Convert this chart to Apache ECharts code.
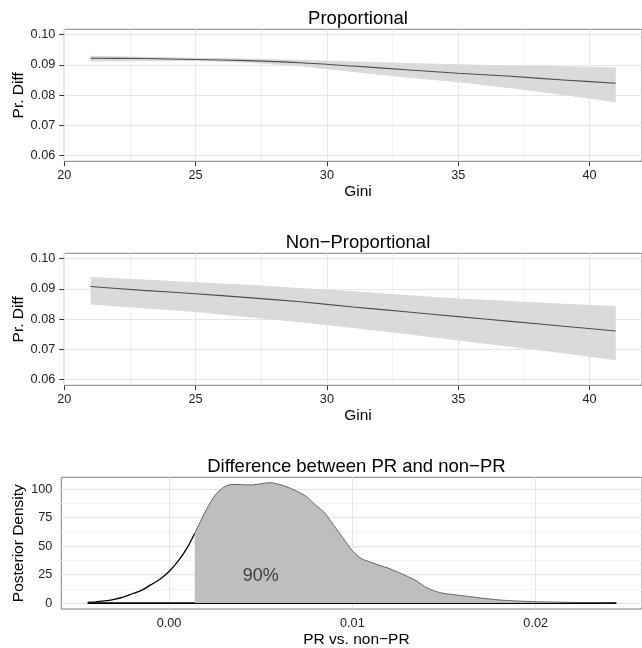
<!DOCTYPE html>
<html>
<head>
<meta charset="utf-8">
<script src="https://cdn.jsdelivr.net/npm/echarts@6/dist/echarts.min.js"></script>
<style>html,body{margin:0;padding:0;background:#fff;}#c{width:642px;height:648px;}</style>
</head>
<body>
<div id="c"></div>
<script>
// ---------- data ----------
const gini = [21, 23, 25, 27, 29, 31, 33, 35, 37, 39, 41];
const propMean  = [0.0922, 0.0921, 0.0918, 0.0914, 0.0907, 0.0896, 0.0884, 0.0872, 0.0862, 0.0850, 0.0839];
const propUpper = [0.0930, 0.0927, 0.0924, 0.0921, 0.0916, 0.0911, 0.0906, 0.0902, 0.0898, 0.0895, 0.0892];
const propLower = [0.0911, 0.0912, 0.0913, 0.0907, 0.0895, 0.0876, 0.0858, 0.0842, 0.0822, 0.0800, 0.0776];
const nonMean  = [0.0908, 0.0895, 0.0884, 0.0871, 0.0857, 0.0840, 0.0824, 0.0808, 0.0792, 0.0776, 0.0760];
const nonUpper = [0.0939, 0.0931, 0.0922, 0.0914, 0.0903, 0.0892, 0.0880, 0.0868, 0.0860, 0.0851, 0.0843];
const nonLower = [0.0848, 0.0836, 0.0823, 0.0806, 0.0789, 0.0770, 0.0750, 0.0729, 0.0708, 0.0686, 0.0663];

const densityX = [-0.00444, -0.0040, -0.0035, -0.0030, -0.0025, -0.0020, -0.0015, -0.0010, -0.0005, 0.0000,
  0.0005, 0.0010, 0.0014, 0.0020, 0.0025, 0.0030, 0.0035, 0.0040, 0.0045, 0.0050, 0.0055, 0.0060, 0.0065,
  0.0070, 0.0075, 0.0080, 0.0085, 0.0090, 0.0095, 0.0100, 0.0105, 0.0110, 0.0115, 0.0120, 0.0125, 0.0130,
  0.0135, 0.0140, 0.0145, 0.0150, 0.0160, 0.0170, 0.0180, 0.0190, 0.0200, 0.0210, 0.0220, 0.0230, 0.0244];
const densityY = [0.5, 1.1, 1.9, 3.3, 5.3, 8.2, 11.2, 16, 21, 27.7,
  37, 49, 61.4, 81, 94.5, 102, 104.3, 104, 103.8, 104.8, 105.8, 104.3, 101.7,
  98, 93.5, 86, 79, 68, 57, 46, 39, 36, 33, 30.5, 27, 23.5,
  19.5, 14, 10.5, 8.5, 6.5, 4.5, 2.8, 1.8, 1.2, 0.9, 0.6, 0.4, 0.2];
const hpdLower = 0.0014;
const annotation = {x: 0.005, y: 24, text: '90%'};

const titles = ['Proportional', 'Non\u2212Proportional', 'Difference between PR and non\u2212PR'];
const xNames = ['Gini', 'Gini', 'PR vs. non\u2212PR'];
const yNames = ['Pr. Diff', 'Pr. Diff', 'Posterior Density'];

const xTicksGini = [20, 25, 30, 35, 40];
const xMinorGini = [22.5, 27.5, 32.5, 37.5];
const yTicksPr = [0.06, 0.07, 0.08, 0.09, 0.10];
const yMinorPr = [0.065, 0.075, 0.085, 0.095];
const xTicksDiff = [0.00, 0.01, 0.02];
const xMinorDiff = [-0.005, 0.005, 0.015, 0.025];
const yTicksDens = [0, 25, 50, 75, 100];
const yMinorDens = [12.5, 37.5, 62.5, 87.5];

// ---------- styling ----------
const FONT = '"Liberation Sans", Arial, Helvetica, sans-serif';
const MAJOR = '#e6e6e6', MINOR = '#f4f4f4';
const zip = (a, b) => a.map((v, i) => [v, b[i]]);

const grids = [
  {left: 64.3, top: 29.3, height: 132, right: -9.7},
  {left: 64.3, top: 253.3, height: 132, right: -9.7},
  {left: 61.3, top: 477.3, height: 131.7, right: -9.5}
].map(g => Object.assign(g, {show: true, borderColor: '#7f7f7f', borderWidth: 1, backgroundColor: '#fff', containLabel: false}));

function axis(min, max, ticks, fmt) {
  return {
    type: 'value', min: min, max: max,
    axisLine: {show: false},
    splitLine: {show: false},
    axisTick: {show: true, customValues: ticks, length: 5, lineStyle: {color: '#333', width: 1}},
    axisLabel: {show: true, customValues: ticks, formatter: fmt, color: '#222', fontSize: 12.7, fontFamily: FONT, margin: 8}
  };
}
const xAxes = [
  Object.assign(axis(20, 42, xTicksGini, v => String(v)), {gridIndex: 0}),
  Object.assign(axis(20, 42, xTicksGini, v => String(v)), {gridIndex: 1}),
  Object.assign(axis(-0.00588, 0.0258, xTicksDiff, v => v.toFixed(2)), {gridIndex: 2})
];
const yAxes = [
  Object.assign(axis(0.058, 0.1018, yTicksPr, v => v.toFixed(2)), {gridIndex: 0}),
  Object.assign(axis(0.058, 0.1018, yTicksPr, v => v.toFixed(2)), {gridIndex: 1}),
  Object.assign(axis(-5.2, 110.5, yTicksDens, v => String(v)), {gridIndex: 2})
];
yAxes.forEach(a => a.axisLabel.margin = 9);

function gridSeries(idx, xMaj, xMin, yMaj, yMin) {
  const d = [];
  xMin.forEach(v => d.push({xAxis: v, lineStyle: {color: MINOR, width: 1, type: 'solid'}}));
  yMin.forEach(v => d.push({yAxis: v, lineStyle: {color: MINOR, width: 1, type: 'solid'}}));
  xMaj.forEach(v => d.push({xAxis: v, lineStyle: {color: MAJOR, width: 1, type: 'solid'}}));
  yMaj.forEach(v => d.push({yAxis: v, lineStyle: {color: MAJOR, width: 1, type: 'solid'}}));
  return {
    type: 'line', xAxisIndex: idx, yAxisIndex: idx, data: [], z: 1, silent: true,
    markLine: {silent: true, z: 1, symbol: ['none', 'none'], label: {show: false}, animation: false, data: d}
  };
}

function ribbonSeries(idx, mean, upper, lower) {
  return [
    {type: 'custom', xAxisIndex: idx, yAxisIndex: idx, data: [[gini[0], upper[0]]], z: 2, silent: true,
     renderItem: function (params, api) {
       const pts = [];
       for (let i = 0; i < gini.length; i++) pts.push(api.coord([gini[i], upper[i]]));
       for (let i = gini.length - 1; i >= 0; i--) pts.push(api.coord([gini[i], lower[i]]));
       return {type: 'polygon', shape: {points: pts}, style: {fill: '#dadada', stroke: null}};
     }},
    {type: 'line', xAxisIndex: idx, yAxisIndex: idx, data: zip(gini, mean), symbol: 'none', smooth: 0.3,
     lineStyle: {color: '#4d4d4d', width: 1.1}, z: 3, silent: true}
  ];
}

const densPts = zip(densityX, densityY);
const leftPts = densPts.filter(p => p[0] <= hpdLower);
const shadePts = densPts.filter(p => p[0] >= hpdLower);

const series = [
  gridSeries(0, xTicksGini, xMinorGini, yTicksPr, yMinorPr),
  gridSeries(1, xTicksGini, xMinorGini, yTicksPr, yMinorPr),
  gridSeries(2, xTicksDiff, xMinorDiff, yTicksDens, yMinorDens),
  ...ribbonSeries(0, propMean, propUpper, propLower),
  ...ribbonSeries(1, nonMean, nonUpper, nonLower),
  {type: 'line', xAxisIndex: 2, yAxisIndex: 2, data: [[densityX[0], 0], [densityX[densityX.length - 1], 0]],
   symbol: 'none', lineStyle: {color: '#000', width: 1.6}, z: 2, silent: true},
  {type: 'line', xAxisIndex: 2, yAxisIndex: 2, data: leftPts, symbol: 'none', smooth: 0.3,
   lineStyle: {color: '#000', width: 1.3}, z: 3, silent: true},
  {type: 'line', xAxisIndex: 2, yAxisIndex: 2, data: shadePts, symbol: 'none', smooth: 0.3,
   lineStyle: {color: '#333', width: 0.7}, areaStyle: {color: '#bebebe', opacity: 1}, z: 4, silent: true},
  {type: 'scatter', xAxisIndex: 2, yAxisIndex: 2, data: [[annotation.x, annotation.y]], symbolSize: 0, z: 5, silent: true,
   label: {show: true, position: 'inside', formatter: annotation.text, color: '#1a1a1a', fontSize: 18, fontFamily: FONT}}
];

// ---------- text ----------
function txt(text, x, y, size, rot) {
  return {type: 'text', x: x, y: y, rotation: rot || 0, silent: true,
    style: {text: text, fill: '#000', fontSize: size, fontFamily: FONT,
      align: 'center', verticalAlign: 'middle', textAlign: 'center', textVerticalAlign: 'middle'}};
}
const panelTop = [29.3, 253.3, 477.3];
const panelBottom = [161.3, 385.3, 609];
const panelCx = [358, 358, 356.4];
const graphic = [];
for (let i = 0; i < 3; i++) {
  graphic.push(txt(titles[i], panelCx[i], panelTop[i] - 10.5, 18.5));
  graphic.push(txt(xNames[i], panelCx[i], panelBottom[i] + 30.5, 15.5));
  graphic.push(txt(yNames[i], 18.3, (panelTop[i] + panelBottom[i]) / 2, 15.5, Math.PI / 2));
}

const chart = echarts.init(document.getElementById('c'), null, {renderer: 'canvas'});
chart.setOption({
  animation: false,
  backgroundColor: '#fff',
  grid: grids,
  xAxis: xAxes,
  yAxis: yAxes,
  series: series,
  graphic: graphic
});
</script>
</body>
</html>
